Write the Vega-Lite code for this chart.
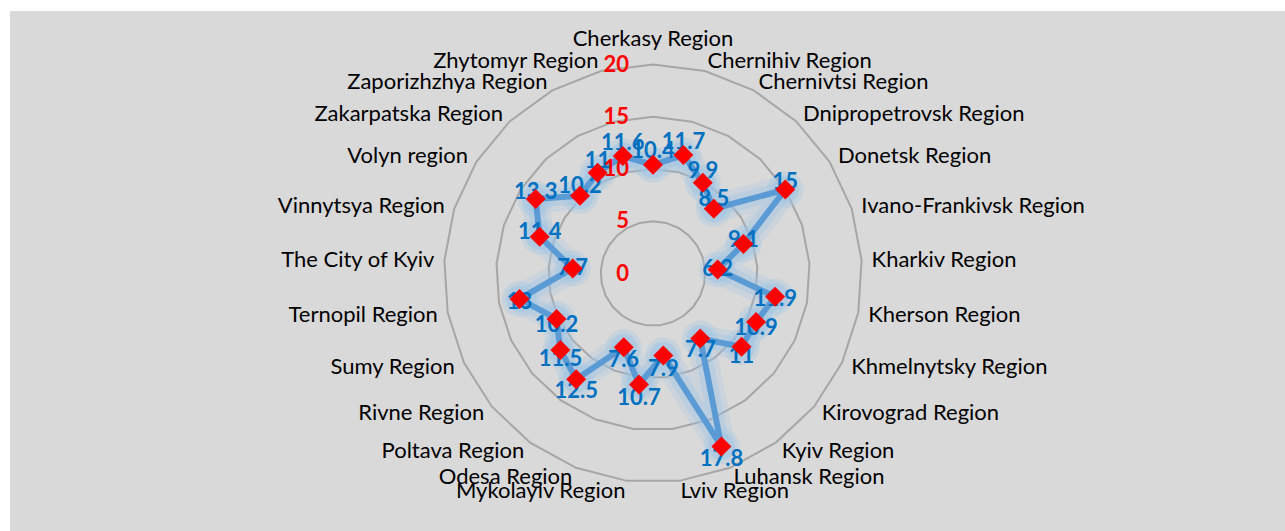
{
  "$schema": "https://vega.github.io/schema/vega-lite/v6.json",
  "width": 1285,
  "height": 531,
  "autosize": {"type": "fit", "contains": "padding"},
  "padding": {"left": 10, "top": 11, "right": 0, "bottom": 0},
  "background": "white",
  "config": {"view": {"fill": "#D9D9D9", "stroke": null}},
  "datasets": {
    "regions": [
      {"region": "Cherkasy Region", "value": 10.4},
      {"region": "Chernihiv Region", "value": 11.7},
      {"region": "Chernivtsi Region", "value": 9.9},
      {"region": "Dnipropetrovsk Region", "value": 8.5},
      {"region": "Donetsk Region", "value": 15},
      {"region": "Ivano-Frankivsk Region", "value": 9.1},
      {"region": "Kharkiv Region", "value": 6.2},
      {"region": "Kherson Region", "value": 11.9},
      {"region": "Khmelnytsky Region", "value": 10.9},
      {"region": "Kirovograd Region", "value": 11},
      {"region": "Kyiv Region", "value": 7.7},
      {"region": "Luhansk Region", "value": 17.8},
      {"region": "Lviv Region", "value": 7.9},
      {"region": "Mykolayiv Region", "value": 10.7},
      {"region": "Odesa Region", "value": 7.6},
      {"region": "Poltava Region", "value": 12.5},
      {"region": "Rivne Region", "value": 11.5},
      {"region": "Sumy Region", "value": 10.2},
      {"region": "Ternopil Region", "value": 13},
      {"region": "The City of Kyiv", "value": 7.7},
      {"region": "Vinnytsya Region", "value": 11.4},
      {"region": "Volyn region", "value": 13.3},
      {"region": "Zakarpatska Region", "value": 10.2},
      {"region": "Zaporizhzhya Region", "value": 11},
      {"region": "Zhytomyr Region", "value": 11.6}
    ],
    "ticks": [{"t": 0}, {"t": 5}, {"t": 10}, {"t": 15}, {"t": 20}]
  },
  "encoding": {
    "x": {"field": "X", "type": "quantitative", "scale": {"domain": [-61.53, 60.48], "nice": false, "zero": false}, "axis": null},
    "y": {"field": "Y", "type": "quantitative", "scale": {"domain": [-24.64, 25.12], "nice": false, "zero": false}, "axis": null}
  },
  "layer": [
    {
      "data": {"name": "regions"},
      "transform": [
        {"window": [{"op": "row_number", "as": "rn"}]},
        {"calculate": "(datum.rn - 1) * 2 * PI / 25", "as": "ang"},
        {"calculate": "[5, 10, 15, 20]", "as": "ring"},
        {"flatten": ["ring"]},
        {"calculate": "datum.ring * sin(datum.ang)", "as": "X"},
        {"calculate": "datum.ring * cos(datum.ang)", "as": "Y"}
      ],
      "mark": {"type": "line", "interpolate": "linear-closed", "color": "#A6A6A6", "strokeWidth": 2},
      "encoding": {"detail": {"field": "ring", "type": "nominal"}, "order": {"field": "rn", "type": "quantitative"}}
    },
    {
      "data": {"name": "regions"},
      "transform": [
        {"window": [{"op": "row_number", "as": "rn"}]},
        {"calculate": "(datum.rn - 1) * 2 * PI / 25", "as": "ang"},
        {"calculate": "datum.value * sin(datum.ang)", "as": "X"},
        {"calculate": "datum.value * cos(datum.ang)", "as": "Y"}
      ],
      "layer": [
        {"mark": {"type": "line", "interpolate": "linear-closed", "color": "#9DC3E6", "strokeWidth": 28, "opacity": 0.22, "strokeJoin": "round", "strokeCap": "round"}, "encoding": {"order": {"field": "rn", "type": "quantitative"}}},
        {"mark": {"type": "line", "interpolate": "linear-closed", "color": "#9DC3E6", "strokeWidth": 17, "opacity": 0.35, "strokeJoin": "round", "strokeCap": "round"}, "encoding": {"order": {"field": "rn", "type": "quantitative"}}},
        {"mark": {"type": "point", "shape": "circle", "filled": true, "color": "#9DC3E6", "size": 1300, "opacity": 0.3}, "encoding": {}},
        {"mark": {"type": "point", "shape": "circle", "filled": true, "color": "#9DC3E6", "size": 700, "opacity": 0.4}, "encoding": {}},
        {"mark": {"type": "line", "interpolate": "linear-closed", "color": "#5B9BD5", "strokeWidth": 6, "strokeJoin": "round"}, "encoding": {"order": {"field": "rn", "type": "quantitative"}}}
      ]
    },
    {
      "data": {"name": "regions"},
      "transform": [
        {"window": [{"op": "row_number", "as": "rn"}]},
        {"calculate": "(datum.rn - 1) * 2 * PI / 25", "as": "ang"},
        {"calculate": "datum.value * sin(datum.ang)", "as": "X"},
        {"calculate": "(datum.value + 1.34) * cos(datum.ang)", "as": "Y"}
      ],
      "mark": {"type": "text", "font": "Lato", "fontWeight": "bold", "fontSize": 22, "color": "#0070C0", "align": "center", "baseline": "middle"},
      "encoding": {"text": {"field": "value", "type": "quantitative"}}
    },
    {
      "data": {"name": "regions"},
      "transform": [
        {"window": [{"op": "row_number", "as": "rn"}]},
        {"calculate": "(datum.rn - 1) * 2 * PI / 25", "as": "ang"},
        {"calculate": "datum.value * sin(datum.ang)", "as": "X"},
        {"calculate": "datum.value * cos(datum.ang)", "as": "Y"}
      ],
      "mark": {"type": "point", "shape": "diamond", "filled": true, "color": "#FF0000", "size": 400, "opacity": 1},
      "encoding": {}
    },
    {
      "data": {"name": "regions"},
      "transform": [
        {"window": [{"op": "row_number", "as": "rn"}]},
        {"filter": "datum.rn == 1"},
        {"calculate": "0", "as": "X"},
        {"calculate": "21.3", "as": "Y"}
      ],
      "mark": {"type": "text", "font": "Lato", "fontSize": 22, "color": "#000000", "align": "center", "baseline": "bottom"},
      "encoding": {"text": {"field": "region", "type": "nominal"}}
    },
    {
      "data": {"name": "regions"},
      "transform": [
        {"window": [{"op": "row_number", "as": "rn"}]},
        {"filter": "datum.rn >= 2 && datum.rn <= 13"},
        {"calculate": "(datum.rn - 1) * 2 * PI / 25", "as": "ang"},
        {"calculate": "20.96 * sin(datum.ang)", "as": "X"},
        {"calculate": "20.96 * cos(datum.ang)", "as": "Y"}
      ],
      "mark": {"type": "text", "font": "Lato", "fontSize": 22, "color": "#000000", "align": "left", "baseline": "middle"},
      "encoding": {"text": {"field": "region", "type": "nominal"}}
    },
    {
      "data": {"name": "regions"},
      "transform": [
        {"window": [{"op": "row_number", "as": "rn"}]},
        {"filter": "datum.rn >= 14"},
        {"calculate": "(datum.rn - 1) * 2 * PI / 25", "as": "ang"},
        {"calculate": "20.96 * sin(datum.ang)", "as": "X"},
        {"calculate": "20.96 * cos(datum.ang)", "as": "Y"}
      ],
      "mark": {"type": "text", "font": "Lato", "fontSize": 22, "color": "#000000", "align": "right", "baseline": "middle"},
      "encoding": {"text": {"field": "region", "type": "nominal"}}
    },
    {
      "data": {"name": "ticks"},
      "transform": [
        {"calculate": "-2.3", "as": "X"},
        {"calculate": "datum.t", "as": "Y"}
      ],
      "mark": {"type": "text", "font": "Lato", "fontWeight": "bold", "fontSize": 22, "color": "#FF0000", "align": "right", "baseline": "middle"},
      "encoding": {"text": {"field": "t", "type": "quantitative"}}
    }
  ]
}
